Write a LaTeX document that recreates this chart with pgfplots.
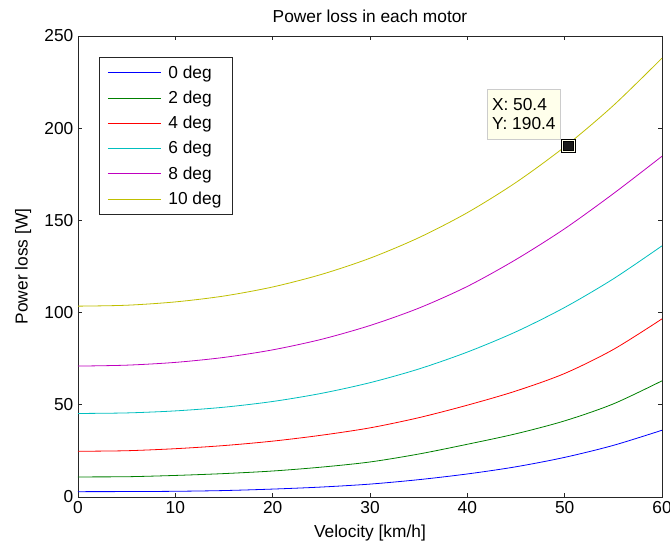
\documentclass[border=0pt]{standalone}
\usepackage{fontspec}
\setmainfont{Liberation Sans}
\usepackage{pgfplots}
\pgfplotsset{compat=1.18}

% matlab default line colours
\definecolor{mblue}{rgb}{0,0,1}
\definecolor{mgreen}{rgb}{0,0.5,0}
\definecolor{mred}{rgb}{1,0,0}
\definecolor{mcyan}{rgb}{0,0.75,0.75}
\definecolor{mmagenta}{rgb}{0.75,0,0.75}
\definecolor{myellow}{rgb}{0.75,0.75,0}
\definecolor{tipbg}{rgb}{1,1,0.92}

\newcommand{\fs}{\fontsize{13}{15}\selectfont}

\begin{document}
\begin{tikzpicture}
\begin{axis}[
    scale only axis,
    width=438pt, height=345.75pt,
    xmin=0, xmax=60, ymin=0, ymax=250,
    xtick={0,10,...,60},
    ytick={0,50,...,250},
    tick align=inside,
    major tick length=3pt,
    axis line style={black!85, line width=0.7pt},
    every tick/.style={black!85, line width=0.5pt},
    tick label style={font=\fs},
    /pgf/number format/assume math mode=true,
    every axis title shift=0pt,
    title={Power loss in each motor},
    title style={font=\fs, at={(axis description cs:0.5,1.043)}, anchor=center},
    xlabel={Velocity [km/h]},
    xlabel style={font=\fs, at={(axis description cs:0.5,-0.078)}, anchor=center},
    ylabel={Power loss [W]},
    ylabel style={font=\fs, at={(axis description cs:-0.094,0.5)}, anchor=center},
    legend cell align=left,
    legend style={at={(axis description cs:0.036,0.954)}, anchor=north west,
        draw=black!85, line width=0.7pt, font=\fs, row sep=4pt,
        inner xsep=6pt, inner ysep=4pt,
        /tikz/every odd column/.append style={column sep=3pt}},
    legend image code/.code={\draw[#1, line width=0.7pt]
        (0pt,0pt) -- (40pt,0pt);},
    every axis plot/.append style={line width=0.6pt, smooth, tension=0.5},
]
\addplot[mblue] coordinates {(0,2.9) (5,2.95) (10,3.1) (15,3.5) (20,4.3) (25,5.4) (30,7.0) (35,9.4) (40,12.5) (45,16.4) (50,21.5) (55,28.0) (60,36.2)};
\addplot[mgreen] coordinates {(0,10.9) (5,11.0) (10,11.7) (15,12.7) (20,14.1) (25,16.2) (30,19.0) (35,23.3) (40,28.6) (45,34.3) (50,41.3) (55,50.5) (60,63.0)};
\addplot[mred] coordinates {(0,24.8) (5,25.1) (10,26.2) (15,27.9) (20,30.3) (25,33.5) (30,37.5) (35,43.0) (40,49.8) (45,57.5) (50,67.0) (55,80.0) (60,96.6)};
\addplot[mcyan] coordinates {(0,45.3) (5,45.6) (10,46.7) (15,48.7) (20,51.8) (25,56.2) (30,62.0) (35,69.4) (40,78.6) (45,89.6) (50,102.8) (55,118.3) (60,136.2)};
\addplot[mmagenta] coordinates {(0,71.0) (5,71.5) (10,73.0) (15,75.7) (20,79.8) (25,85.5) (30,93.0) (35,102.4) (40,114.2) (45,128.8) (50,145.5) (55,164.5) (60,184.8)};
\addplot[myellow] coordinates {(0,103.5) (5,104.0) (10,105.8) (15,109.0) (20,113.9) (25,120.7) (30,129.5) (35,140.6) (40,154.2) (45,170.6) (50,189.9) (55,212.3) (60,238.0)};
\legend{0 deg, 2 deg, 4 deg, 6 deg, 8 deg, 10 deg}
% data tip
\addplot[forget plot, only marks, mark=square*, mark size=5pt, mark options={fill=tipbg, draw=none}] coordinates {(50.4,190.4)};
\addplot[forget plot, only marks, mark=square*, mark size=3.6pt, mark options={fill=black!90, draw=none}] coordinates {(50.4,190.4)};
\node[anchor=south east, draw=black!20, fill=tipbg, font=\fs, align=left,
      inner xsep=3.5pt, inner ysep=7pt, xshift=-6pt, yshift=5pt]
      at (axis cs:50.4,190.4) {X: 50.4\\[-1pt]Y: 190.4};
\end{axis}
\pgfresetboundingbox
\path (-58.5pt,-37.5pt) rectangle (444pt,372.75pt);
\end{tikzpicture}
\end{document}
